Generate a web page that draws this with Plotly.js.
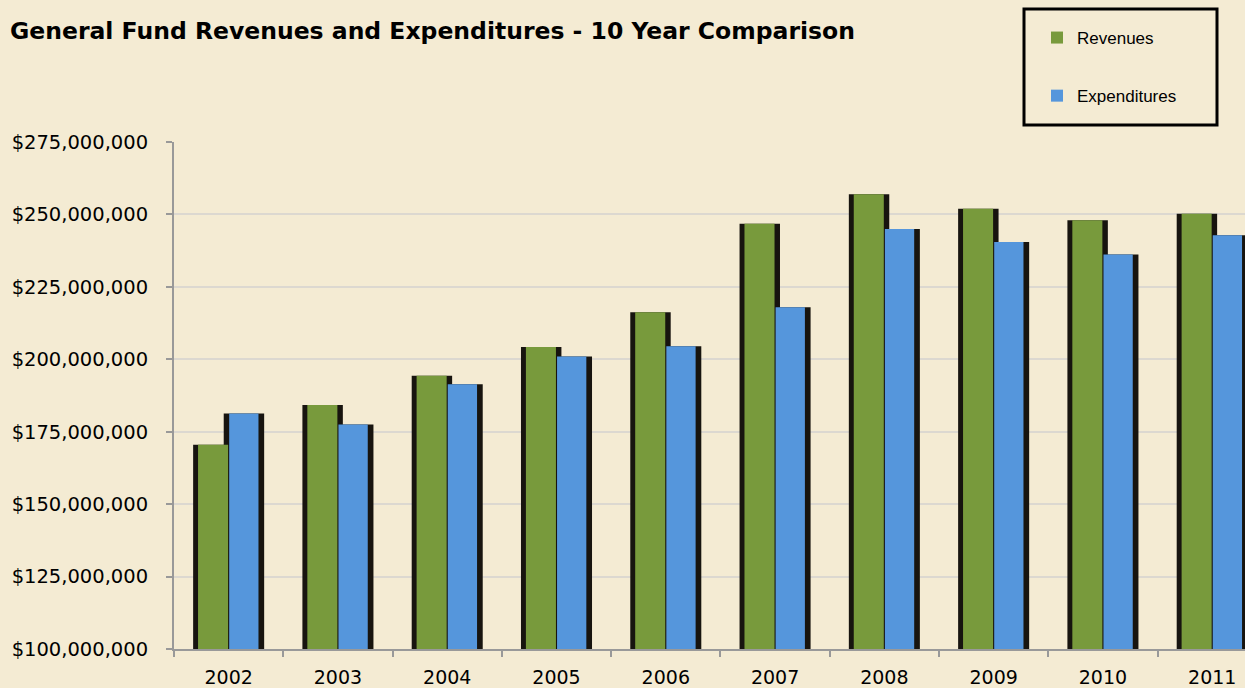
<!DOCTYPE html>
<html>
<head>
<meta charset="utf-8">
<script src="https://cdn.plot.ly/plotly-3.0.1.min.js"></script>
<style>html,body{margin:0;padding:0;background:#f4ebd3;}#chart{width:1245px;height:688px;}</style>
</head>
<body>
<div id="chart"></div>
<script>
const years = ['2002','2003','2004','2005','2006','2007','2008','2009','2010','2011'];
const revenues = [170500000, 184200000, 194300000, 204200000, 216200000, 246800000, 257000000, 252000000, 248000000, 250200000];
const expenditures = [181300000, 177500000, 191400000, 201000000, 204500000, 218000000, 245000000, 240500000, 236200000, 242800000];
const yTicks = [100000000,125000000,150000000,175000000,200000000,225000000,250000000,275000000];
const yTickText = ['$100,000,000','$125,000,000','$150,000,000','$175,000,000','$200,000,000','$225,000,000','$250,000,000','$275,000,000'];
const baseValue = 100000000;

const bg = '#f4ebd3';
const green = '#789a3c';
const blue = '#5596dc';
const shadow = '#17140f';

const heights = arr => arr.map(v => v - baseValue);

const traces = [
  {type:'bar', x: years, y: heights(revenues), base: baseValue, offset: -0.325, width: 0.37, marker:{color: shadow, line:{width:0}}, showlegend:false, hoverinfo:'skip'},
  {type:'bar', x: years, y: heights(expenditures), base: baseValue, offset: -0.045, width: 0.37, marker:{color: shadow, line:{width:0}}, showlegend:false, hoverinfo:'skip'},
  {type:'bar', name:'Revenues', x: years, y: heights(revenues), base: baseValue, offset: -0.28, width: 0.275, marker:{color: green, line:{width:0}}, legendgroup:'a'},
  {type:'bar', name:'Expenditures', x: years, y: heights(expenditures), base: baseValue, offset: 0.005, width: 0.268, marker:{color: blue, line:{width:0}}, legendgroup:'b'}
];

const layout = {
  width: 1245, height: 688,
  paper_bgcolor: bg, plot_bgcolor: bg,
  margin: {l: 174, r: 0, t: 142, b: 39},
  barmode: 'overlay',
  font: {family: 'Liberation Sans, Arial, sans-serif', color: '#000'},
  title: {text: '<b>General Fund Revenues and Expenditures - 10 Year Comparison</b>', x: 10/1245, xref: 'container', xanchor: 'left', y: 1 - 31/688, yref: 'container', yanchor: 'middle', font: {size: 23.5, family: 'DejaVu Sans, sans-serif', color: '#000'}},
  xaxis: {type: 'category', range: [-0.5, 9.3], tickson: 'boundaries', ticks: 'outside', ticklen: 6, tickcolor: '#999', tickwidth: 2,
          showline: true, linecolor: '#999', linewidth: 2, showgrid: false, tickfont: {size: 19, family: 'DejaVu Sans, sans-serif'}, ticklabelstandoff: 10},
  yaxis: {range: [100000000, 275000000], tickvals: yTicks, ticktext: yTickText, ticks: 'outside', ticklen: 6, tickcolor: '#999', tickwidth: 2,
          showline: true, linecolor: '#999', linewidth: 2, showgrid: true, gridcolor: '#dcd8d0', gridwidth: 2, zeroline: false, tickfont: {size: 19.5, family: 'DejaVu Sans, sans-serif'}, ticklabelstandoff: 14},
  legend: {x: (1037-174)/1071, xanchor: 'left', y: 1 + (142-20)/507, yanchor: 'top', bgcolor: 'rgba(0,0,0,0)', borderwidth: 0,
           font: {size: 17}, traceorder: 'grouped', tracegroupgap: 33, itemwidth: 30},
  shapes: [{type: 'rect', xref: 'paper', yref: 'paper', x0: (1024-174)/1071, x1: (1217-174)/1071, y0: 1 + (142-125)/507, y1: 1 + (142-9)/507,
            line: {color: '#000', width: 3}, fillcolor: 'rgba(0,0,0,0)'}],
  showlegend: true
};

Plotly.newPlot('chart', traces, layout, {displayModeBar: false, staticPlot: true});
</script>
</body>
</html>
